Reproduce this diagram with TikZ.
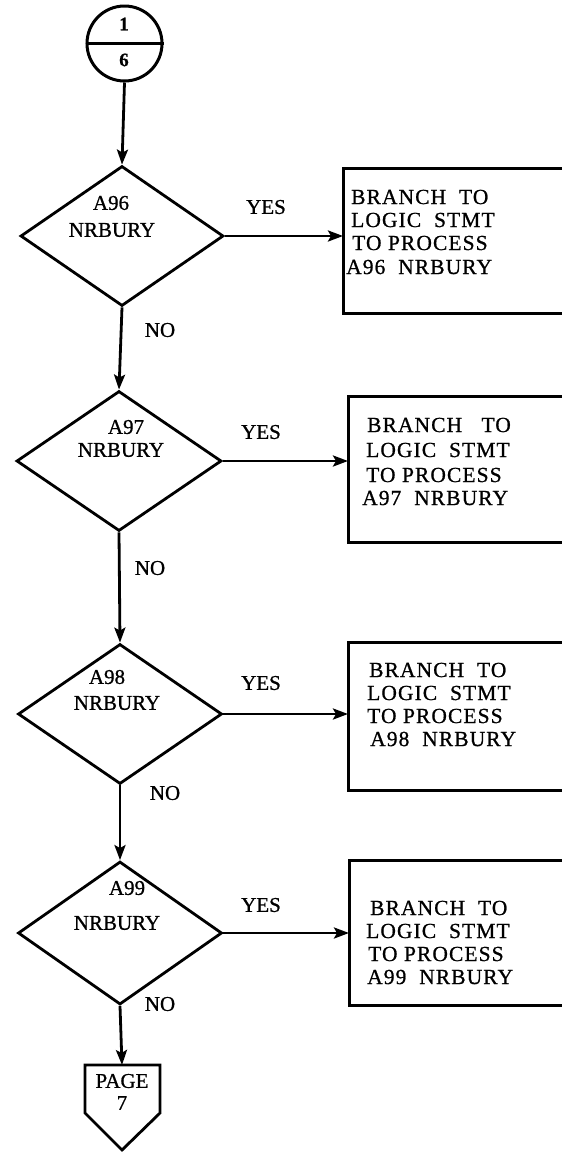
\documentclass[tikz,border=0pt]{standalone}
\usepackage{fontspec}
\setmainfont{Liberation Serif}[FakeBold=0.8]
\newfontfamily\boxfont{Liberation Serif}[FakeBold=0.8,LetterSpace=5]
\usetikzlibrary{shapes.geometric,arrows.meta}
\begin{document}
\begin{tikzpicture}[x=1pt,y=-1pt,
  ln/.style={line width=2.8pt,line join=miter},
  arr/.style={line width=2.8pt,-{Stealth[length=15pt,width=11pt,inset=3pt]}},
  dec/.style={diamond,draw,line width=2.8pt,minimum width=204pt,minimum height=140pt,inner sep=0pt},
  txt/.style={font=\fontsize{21}{25}\selectfont,inner sep=0pt},
  bl/.style={font=\boxfont\fontsize{21.5}{24}\selectfont,anchor=west,inner sep=0pt},
  box/.style={line width=3pt}]
\useasboundingbox (0,0) rectangle (562,1152);
% connector circle
\node[circle,draw,line width=3pt,minimum size=75pt,inner sep=0pt] (c) at (124.5,43.5) {};
\draw[line width=3pt] (c.west) -- (c.east);
\node[txt,font=\bfseries\fontsize{19}{22}\selectfont] (c1) at (124,24) {1};
\node[txt,font=\bfseries\fontsize{19}{22}\selectfont] (c6) at (124,60) {6};
% decisions
\node[dec,minimum width=203pt] (d1) at (122,236) {};
\node[txt] (d1a) at (111,203) {A96};
\node[txt] (d1b) at (112,230) {NRBURY};
\node[dec,minimum width=205pt] (d2) at (119,461) {};
\node[txt] (d2a) at (126,427) {A97};
\node[txt] (d2b) at (121,450) {NRBURY};
\node[dec] (d3) at (120,714) {};
\node[txt] (d3a) at (107,677) {A98};
\node[txt] (d3b) at (117,703) {NRBURY};
\node[dec,minimum height=143pt] (d4) at (120,933) {};
\node[txt] (d4a) at (127,888) {A99};
\node[txt] (d4b) at (117,923) {NRBURY};
% vertical arrows
\draw[arr] (c.south) -- (d1.north);
\draw[arr] (d1.south) -- (d2.north);
\draw[arr] (d2.south) -- (d3.north);
\draw[arr] (d3.south) -- (d4.north);
% NO labels
\node[txt] (n1) at (160,330) {NO};
\node[txt] (n2) at (150,568) {NO};
\node[txt] (n3) at (165,793) {NO};
\node[txt] (n4) at (160,1004) {NO};
% YES labels
\node[txt] (y1) at (266,207) {YES};
\node[txt] (y2) at (261,432) {YES};
\node[txt] (y3) at (261,683) {YES};
\node[txt] (y4) at (261,905) {YES};
% boxes (open to the right)
\draw[box] (562,168) -- (343,168) -- (343,313) -- (562,313);
\coordinate (b1) at (343,236);
\node[bl] (b1a) at (351,197) {BRANCH\ \ TO};
\node[bl] (b1b) at (351,220) {LOGIC\ \ STMT};
\node[bl] (b1c) at (352,243) {TO PROCESS};
\node[bl] (b1d) at (346,267) {A96\ \ NRBURY};
\draw[box] (562,396) -- (348,396) -- (348,542) -- (562,542);
\coordinate (b2) at (348,461);
\node[bl] (b2a) at (367,425) {BRANCH\ \ \ TO};
\node[bl] (b2b) at (366,450) {LOGIC\ \ STMT};
\node[bl] (b2c) at (366,475) {TO PROCESS};
\node[bl] (b2d) at (362,498) {A97\ \ NRBURY};
\draw[box] (562,642) -- (348,642) -- (348,790) -- (562,790);
\coordinate (b3) at (348,714);
\node[bl] (b3a) at (369,670) {BRANCH\ \ TO};
\node[bl] (b3b) at (367,693) {LOGIC\ \ STMT};
\node[bl] (b3c) at (367,716) {TO PROCESS};
\node[bl] (b3d) at (370,739) {A98\ \ NRBURY};
\draw[box] (562,860) -- (349,860) -- (349,1005) -- (562,1005);
\coordinate (b4) at (349,933);
\node[bl] (b4a) at (370,908) {BRANCH\ \ TO};
\node[bl] (b4b) at (366,931) {LOGIC\ \ STMT};
\node[bl] (b4c) at (368,954) {TO PROCESS};
\node[bl] (b4d) at (367,977) {A99\ \ NRBURY};
% yes arrows
\draw[arr] (d1.east) -- (d1.east -| b1);
\draw[arr] (d2.east) -- (d2.east -| b2);
\draw[arr] (d3.east) -- (d3.east -| b3);
\draw[arr] (d4.east) -- (d4.east -| b4);
% off-page connector
\coordinate (p) at (122,1065);
\draw[ln] (85,1065) -- (160,1065) -- (160,1113) -- (122,1150) -- (85,1113) -- cycle;
\node[txt,font=\fontsize{21}{22}\selectfont] (pa) at (122,1081) {PAGE};
\node[txt,font=\fontsize{21}{22}\selectfont] (pb) at (122,1103) {7};
\draw[arr] (d4.south) -- (p);
\end{tikzpicture}
\end{document}
